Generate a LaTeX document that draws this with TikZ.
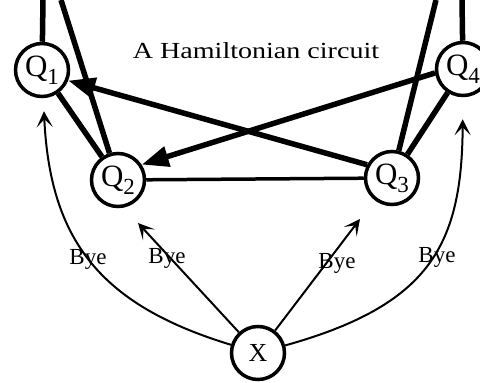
\documentclass[tikz,border=0pt]{standalone}
\usepackage{fontspec}
\setmainfont{Liberation Serif}
\usetikzlibrary{arrows.meta}

\newcommand{\qname}[1]{Q\raisebox{-8pt}{\fontsize{23}{23}\selectfont #1}}

\begin{document}
\begin{tikzpicture}[
    x=1pt, y=-1pt,
    vertex/.style={
        circle, draw=black, line width=3.5pt, fill=white,
        minimum size=53pt, inner sep=0pt, font=\fontsize{31}{31}\selectfont
    },
    startVertex/.style={
        vertex, font=\fontsize{26}{26}\selectfont
    },
    cycleEdge/.style={
        line width=5.5pt, draw=black
    },
    cycleArrow/.style={
        -{Triangle[length=27pt, width=20pt]}, line width=5.5pt, draw=black
    },
    plainEdge/.style={
        line width=3.5pt, draw=black
    },
    byeArrow/.style={
        -{Stealth[length=16pt, width=16pt, inset=8pt]}, line width=2pt, draw=black
    },
    byeLabel/.style={
        font=\fontsize{23}{23}\selectfont, inner sep=0pt
    },
    titleLabel/.style={
        font=\fontsize{23}{23}\selectfont, inner sep=0pt, anchor=base
    }
]

\useasboundingbox (0,0) rectangle (480,383);
\clip (0,0) rectangle (480,383);

% Vertices of the graph
\node[vertex] (Q1) at (42, 70) {\qname{1}};
\node[vertex] (Q2) at (118, 180) {\qname{2}};
\node[vertex] (Q3) at (392, 178) {\qname{3}};
\node[vertex] (Q4) at (463, 69) {\qname{4}};
\node[startVertex] (X) at (258, 353) {X};

% Edges leaving the picture at the top
\coordinate (q1up) at (43, 0);
\coordinate (q2up) at (61, 0);
\coordinate (q3up) at (436, 0);
\coordinate (q4up) at (462, 0);
\draw[cycleEdge] (Q1) -- (q1up);
\draw[cycleEdge] (Q2) -- (q2up);
\draw[cycleEdge] (Q3) -- (q3up);
\draw[cycleEdge] (Q4) -- (q4up);

% The circuit
\draw[cycleEdge] (Q1) -- (Q2);
\draw[plainEdge] (Q2) -- (Q3);
\draw[cycleEdge] (Q3) -- (Q4);
\draw[cycleArrow] (Q3.152) -- (Q1.-22);
\draw[cycleArrow] (Q4.188) -- (Q2.33);

\node[titleLabel] (title) at (256, 58) {\scalebox{1.22}[1]{A Hamiltonian circuit}};

% Bye arrows out of X
\coordinate (tipQ2) at (138, 223);
\coordinate (tipQ3) at (360, 219);
\draw[byeArrow, shorten >=13pt] (X) .. controls (100, 305) and (50, 240) .. (Q1);
\draw[byeArrow] (X) -- (tipQ2);
\draw[byeArrow] (X) -- (tipQ3);
\draw[byeArrow, shorten >=22pt] (X) .. controls (430, 305) and (462, 245) .. (Q4);

\node[byeLabel] (byeA) at (88, 259) {Bye};
\node[byeLabel] (byeB) at (167, 258) {Bye};
\node[byeLabel] (byeC) at (337, 263) {Bye};
\node[byeLabel] (byeD) at (437, 257) {Bye};

\end{tikzpicture}
\end{document}
